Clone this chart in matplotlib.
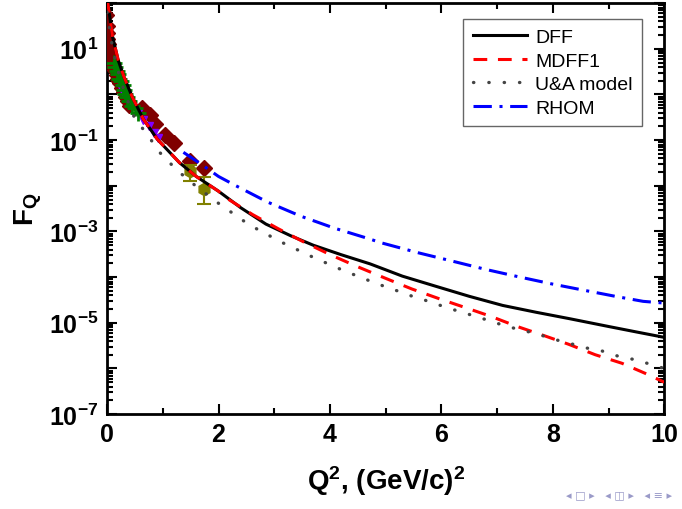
import numpy as np
import matplotlib
matplotlib.use("Agg")
from matplotlib import pyplot as plt
from matplotlib.ticker import FixedLocator, LogLocator, NullFormatter, FixedFormatter

plt.rcParams['font.family'] = ['Liberation Sans', 'DejaVu Sans']
plt.rcParams['mathtext.fontset'] = 'custom'
plt.rcParams['mathtext.rm'] = 'Liberation Sans:bold'
plt.rcParams['mathtext.bf'] = 'Liberation Sans:bold'
plt.rcParams['mathtext.it'] = 'Liberation Sans:bold'

# model curves, Q^2 in (GeV/c)^2 and F_Q
dff_q2 = [0.0, 0.1, 0.2, 0.3, 0.45, 0.65, 0.9, 1.3, 1.6, 2.0, 2.4, 2.85, 3.3, 3.7,
          4.2, 4.72, 5.3, 5.9, 6.5, 7.1, 7.7, 8.3, 9.0, 9.5, 10.0]
dff_f = [1.3e2, 1.8e1, 5.6e0, 2.5e0, 8.9e-1, 2.9e-1, 1.05e-1, 3.2e-2, 1.6e-2, 7.6e-3,
         3.3e-3, 1.45e-3, 8.0e-4, 5.0e-4, 3.1e-4, 1.95e-4, 1.05e-4, 6.3e-5, 3.8e-5,
         2.4e-5, 1.7e-5, 1.23e-5, 8.3e-6, 6.3e-6, 4.8e-6]

mdff_q2 = [0.0, 0.1, 0.2, 0.3, 0.45, 0.65, 0.9, 1.3, 1.6, 2.0, 2.13, 2.61, 3.07, 3.54,
           4.03, 4.49, 4.99, 5.47, 5.95, 6.43, 6.89, 7.36, 7.85, 8.28, 8.76, 9.24, 9.66, 10.0]
mdff_f = [1.3e2, 1.8e1, 5.6e0, 2.5e0, 8.9e-1, 2.9e-1, 1.05e-1, 3.2e-2, 1.6e-2, 7.6e-3,
          5.5e-3, 2.35e-3, 1.15e-3, 5.8e-4, 3.0e-4, 1.7e-4, 9.5e-5, 5.5e-5, 3.4e-5,
          2.15e-5, 1.38e-5, 8.3e-6, 5.2e-6, 3.4e-6, 2.0e-6, 1.3e-6, 7.8e-7, 5.0e-7]

ua_q2 = [0.0, 0.1, 0.2, 0.3, 0.38, 0.5, 0.72, 0.93, 1.17, 1.44, 1.98, 2.55, 3.12, 3.69,
         4.25, 4.84, 5.19, 5.48, 5.77, 6.05, 6.34, 6.62, 6.9, 7.18, 7.47, 7.76, 8.04,
         8.32, 8.61, 8.89, 9.17, 9.48, 9.84, 10.0]
ua_f = [6.3e1, 1.0e1, 3.2e0, 1.26e0, 6.8e-1, 2.9e-1, 1.35e-1, 5.6e-2, 2.8e-2, 1.38e-2,
        4.3e-3, 1.4e-3, 5.9e-4, 2.75e-4, 1.38e-4, 7.2e-5, 5.1e-5, 3.8e-5, 2.95e-5,
        2.25e-5, 1.74e-5, 1.38e-5, 1.07e-5, 8.3e-6, 6.8e-6, 5.5e-6, 4.3e-6, 3.5e-6,
        2.8e-6, 2.4e-6, 1.86e-6, 1.55e-6, 1.15e-6, 1.0e-6]

rhom_q2 = [1.37, 1.7, 2.0, 2.3, 2.88, 3.48, 4.08, 4.67, 4.93, 5.59, 6.19, 6.79, 7.38,
           7.98, 8.58, 9.17, 9.62, 10.0]
rhom_f = [5.4e-2, 2.9e-2, 1.6e-2, 1.02e-2, 4.4e-3, 2.15e-3, 1.18e-3, 7.1e-4, 5.6e-4,
          3.4e-4, 2.25e-4, 1.48e-4, 1.02e-4, 7.1e-5, 5.1e-5, 3.7e-5, 2.95e-5, 2.7e-5]

# experimental points
dr_q2 = [0.005, 0.01, 0.015, 0.02, 0.03, 0.035, 0.04, 0.05, 0.06, 0.07, 0.08, 0.09,
         0.1, 0.11, 0.12, 0.14, 0.16, 0.18, 0.2, 0.22, 0.25, 0.28, 0.32, 0.36, 0.4]
dr_f = [56, 32, 22, 16, 12.5, 10, 8.9, 7.9, 7.1, 6.3, 5.6, 5.0, 4.5, 4.0, 3.5, 3.2,
        2.6, 2.2, 2.0, 1.8, 1.4, 1.12, 0.89, 0.71, 0.56]
dr_xerr = [0.05, 0.04, 0.04, 0.05, 0.04, 0.05, 0.04, 0.04, 0.05, 0.04, 0.05, 0.04,
           0.05, 0.04, 0.05, 0.04, 0.05, 0.04, 0.05, 0.04, 0.05, 0.04, 0.05, 0.04, 0.04]

big_q2 = [0.62, 0.77, 0.86, 1.04, 1.2, 1.49, 1.74]
big_f = [0.5, 0.35, 0.22, 0.13, 0.085, 0.035, 0.025]

gr_q2 = [0.12, 0.15, 0.18, 0.2, 0.22, 0.25, 0.28, 0.3, 0.33, 0.36, 0.4, 0.45, 0.5, 0.55]
gr_f = [5.0, 4.0, 3.2, 2.8, 2.2, 2.0, 1.6, 1.26, 1.0, 0.89, 0.71, 0.56, 0.5, 0.4]

pu_q2 = [0.25, 0.3, 0.35, 0.45, 0.55, 0.65, 0.75, 0.85, 0.92]
pu_f = [1.4, 1.0, 0.79, 0.56, 0.4, 0.28, 0.2, 0.14, 0.11]

ol_q2 = [1.49, 1.74]
ol_f = [0.021, 0.0083]
ol_lo = [0.0085, 0.0043]
ol_hi = [0.007, 0.0075]

fig = plt.figure(figsize=(6.82, 5.10), dpi=100)
ax = fig.add_axes([0.157, 0.186, 0.817, 0.806])

ax.errorbar(dr_q2, dr_f, xerr=dr_xerr, fmt='D', color='#800000', ms=7, elinewidth=2, capsize=0, zorder=3)
ax.plot(big_q2, big_f, 'D', color='#800000', ms=8, zorder=3)
ax.errorbar(gr_q2, gr_f, xerr=0.06, yerr=np.array(gr_f) * 0.15, fmt='+', color='#008000', ms=12, mew=2,
            elinewidth=1.5, capsize=0, zorder=4)
ax.errorbar(pu_q2, pu_f, xerr=0.05, fmt='v', color='#8000ff', ms=6, elinewidth=1.2, capsize=0, zorder=3)
ax.errorbar(ol_q2, ol_f, yerr=[ol_lo, ol_hi], fmt='h', color='#808000', ms=9, elinewidth=1.5,
            capsize=5, capthick=1.5, zorder=4)

ax.plot(dff_q2, dff_f, color='black', lw=2.2, label='DFF', zorder=5)
ax.plot(mdff_q2, mdff_f, color='red', lw=2.2, ls=(0, (4.5, 3.5)), label='MDFF1', zorder=5)
ax.plot(ua_q2, ua_f, color='#444444', lw=2.4, ls=(0, (0.1, 4.5)), dash_capstyle='round',
        label='U&A model', zorder=5)
ax.plot(rhom_q2, rhom_f, color='blue', lw=2.2, ls=(0, (6, 2.5, 1.0, 2.5)), label='RHOM', zorder=5)

ax.set_yscale('log')
ax.set_xlim(0, 10)
ax.set_ylim(1e-7, 1e2)

ax.xaxis.set_major_locator(FixedLocator([0, 2, 4, 6, 8, 10]))
ax.xaxis.set_minor_locator(FixedLocator([1, 3, 5, 7, 9]))
ax.set_xticklabels(['0', '2', '4', '6', '8', '10'], fontsize=18, fontweight='bold')

ax.yaxis.set_major_locator(FixedLocator([10.0 ** k for k in range(-7, 3)]))
ax.yaxis.set_minor_locator(LogLocator(base=10, subs=np.arange(2, 10), numticks=20))
ax.yaxis.set_minor_formatter(NullFormatter())
ylabels = []
for k in range(-7, 3):
    if k % 2 == 1 or k % 2 == -1:
        ylabels.append(r'$\mathbf{10^{%d}}$' % k)
    else:
        ylabels.append('')
ax.yaxis.set_major_formatter(FixedFormatter(ylabels))
for t in ax.get_yticklabels():
    t.set_fontsize(18)

ax.tick_params(which='both', direction='in', top=True, right=True, width=1.5)
ax.tick_params(which='major', length=7, pad=6)
ax.tick_params(which='minor', length=4)
for s in ax.spines.values():
    s.set_linewidth(2)

ax.set_xlabel(r'$\mathbf{Q^2}$, (GeV/c)$\mathbf{^2}$', fontsize=20, fontweight='bold', labelpad=12)
ax.set_ylabel(r'$\mathbf{F_Q}$', fontsize=20, labelpad=4)

leg = ax.legend(loc='upper right', bbox_to_anchor=(0.978, 0.985), fontsize=14, frameon=True,
                fancybox=False, handlelength=2.8, borderpad=0.5, labelspacing=0.3, handletextpad=0.4)
leg.get_frame().set_edgecolor('#404040')
leg.get_frame().set_linewidth(1.0)

fig.text(0.985, 0.02, '◂ □ ▸   ◂ ◫ ▸   ◂ ≡ ▸', ha='right', va='bottom', fontsize=8,
         color='#9a9ac8', family='DejaVu Sans')

plt.savefig('out.png', dpi=100)
